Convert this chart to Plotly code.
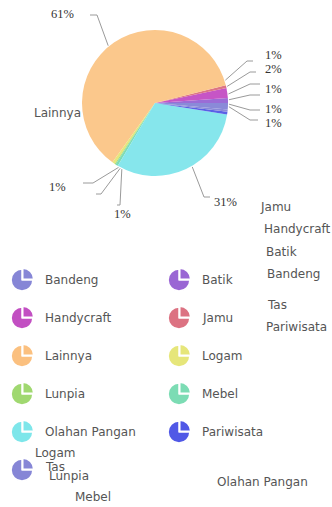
import math
import plotly.graph_objects as go

W, H = 332, 507

# ---------------- data ----------------
categories = ["Bandeng", "Batik", "Handycraft", "Jamu", "Lainnya", "Logam",
              "Lunpia", "Mebel", "Olahan Pangan", "Pariwisata", "Tas"]
values = [1.4, 1.1, 2.2, 0.6, 61.2, 0.6, 0.2, 0.6, 31.0, 0.6, 0.5]
pct_labels = ["", "1%", "2%", "1%", "61%", "1%", "", "1%", "31%", "1%", "1%"]

# ---------------- styles ----------------
slice_colors = ["#8a8ad8", "#9b6cd6", "#c655c6", "#dd7585", "#fbc88c", "#e6e67c",
                "#a2da70", "#7edcb6", "#86e6ec", "#5a60e6", "#8a8ad8"]
legend_colors = ["#8686d6", "#9a66d4", "#c24fc2", "#dc7282", "#fbc07f", "#e6e67a",
                 "#a0d870", "#7cdcb4", "#7ee6ea", "#5058e6", "#8686d6"]
TEXT = "#555555"
PCT = "#333333"
LINE = "#9a9a9a"

# pie geometry in pixel space
CX, CY, R = 155, 103, 73

# leader-line layout (pixel space): elbow point, end x, label centre (or None)
leader = {
    "Lainnya": ((97, 15), 90, (62, 14)),
    "Olahan Pangan": ((204, 197), 210, (225, 202)),
    "Jamu": ((247, 61), 253, (273, 55)),
    "Handycraft": ((250, 72), 256, (273, 69)),
    "Batik": ((250, 84), 260, (273, 89)),
    "Bandeng": ((250, 95), 260, None),
    "Tas": ((250, 110), 260, (273, 109)),
    "Pariwisata": ((250, 120), 258, (273, 123)),
    "Logam": ((93, 183), 83, (57, 187)),
    "Lunpia": ((101, 194), 96, None),
    "Mebel": ((120, 205), 117, (122, 214)),
}

# category-name label positions (pixel space)
name_pos = {
    "Lainnya": (83, 113, "right"),
    "Jamu": (258, 207, "left"),
    "Handycraft": (262, 229, "left"),
    "Batik": (264, 252, "left"),
    "Bandeng": (265, 274, "left"),
    "Tas": (265, 305, "left"),
    "Pariwisata": (264, 327, "left"),
    "Logam": (33, 453, "left"),
    "Lunpia": (47, 476, "left"),
    "Mebel": (73, 497, "left"),
    "Olahan Pangan": (215, 482, "left"),
}

# legend layout
LEG_COL_ICON = [22, 179]
LEG_COL_TEXT = [43, 200]
LEG_ROW0, LEG_DY, ICON_R = 280, 38, 12


def px_domain(cx, cy, r):
    return dict(x=[(cx - r) / W, (cx + r) / W], y=[1 - (cy + r) / H, 1 - (cy - r) / H])


fig = go.Figure()

# invisible trace to establish pixel-space axes
fig.add_trace(go.Scatter(x=[0, W], y=[0, H], mode="markers",
                         marker=dict(opacity=0), hoverinfo="skip", showlegend=False))

# main pie
fig.add_trace(go.Pie(
    labels=categories, values=values, sort=False, direction="counterclockwise",
    rotation=90, textinfo="none", hoverinfo="label+percent",
    marker=dict(colors=slice_colors, line=dict(width=0)),
    domain=px_domain(CX, CY, R), showlegend=False,
))

# leader lines derived from slice angles
total = sum(values)
cum = 0.0
lx, ly = [], []
annotations = []
for cat, v, lab in zip(categories, values, pct_labels):
    mid = (cum + v / 2) / total * 2 * math.pi
    cum += v
    if cat not in leader:
        continue
    (ex, ey), endx, lpos = leader[cat]
    sx = CX + (R + 1) * math.cos(mid)
    sy = CY - (R + 1) * math.sin(mid)
    lx += [sx, ex, endx, None]
    ly += [sy, ey, ey, None]
    if lpos is not None and lab:
        annotations.append(dict(x=lpos[0], y=lpos[1], xref="x", yref="y", text=lab,
                                showarrow=False, xanchor="center", yanchor="middle",
                                font=dict(family="Liberation Serif", size=12.5, color=PCT)))

fig.add_trace(go.Scatter(x=lx, y=ly, mode="lines", line=dict(color=LINE, width=1),
                         hoverinfo="skip", showlegend=False))

# scattered category names
for cat in categories:
    x, y, anc = name_pos[cat]
    annotations.append(dict(x=x, y=y, xref="x", yref="y", text=cat, showarrow=False,
                            xanchor=anc, yanchor="middle",
                            font=dict(family="DejaVu Sans", size=12, color=TEXT)))

# custom legend with pie icons
for i, (cat, col) in enumerate(zip(categories, legend_colors)):
    c, r = i % 2, i // 2
    cy = LEG_ROW0 + LEG_DY * r
    fig.add_trace(go.Pie(
        values=[1, 3], sort=False, direction="clockwise", rotation=0,
        textinfo="none", hoverinfo="skip", pull=[0.1, 0],
        marker=dict(colors=[col, col], line=dict(color="white", width=1.5)),
        domain=px_domain(LEG_COL_ICON[c], cy, ICON_R), showlegend=False,
    ))
    annotations.append(dict(x=LEG_COL_TEXT[c], y=cy - (3 if r == 5 else 0), xref="x", yref="y",
                            text=cat, showarrow=False, xanchor="left", yanchor="middle",
                            font=dict(family="DejaVu Sans", size=12, color=TEXT)))

fig.update_layout(
    width=W, height=H, margin=dict(l=0, r=0, t=0, b=0),
    paper_bgcolor="white", plot_bgcolor="white", showlegend=False,
    font=dict(family="DejaVu Sans", color=TEXT),
    xaxis=dict(range=[0, W], visible=False, fixedrange=True, domain=[0, 1]),
    yaxis=dict(range=[H, 0], visible=False, fixedrange=True, domain=[0, 1]),
    annotations=annotations,
)

fig.write_html("out.html", config={"displayModeBar": False})
